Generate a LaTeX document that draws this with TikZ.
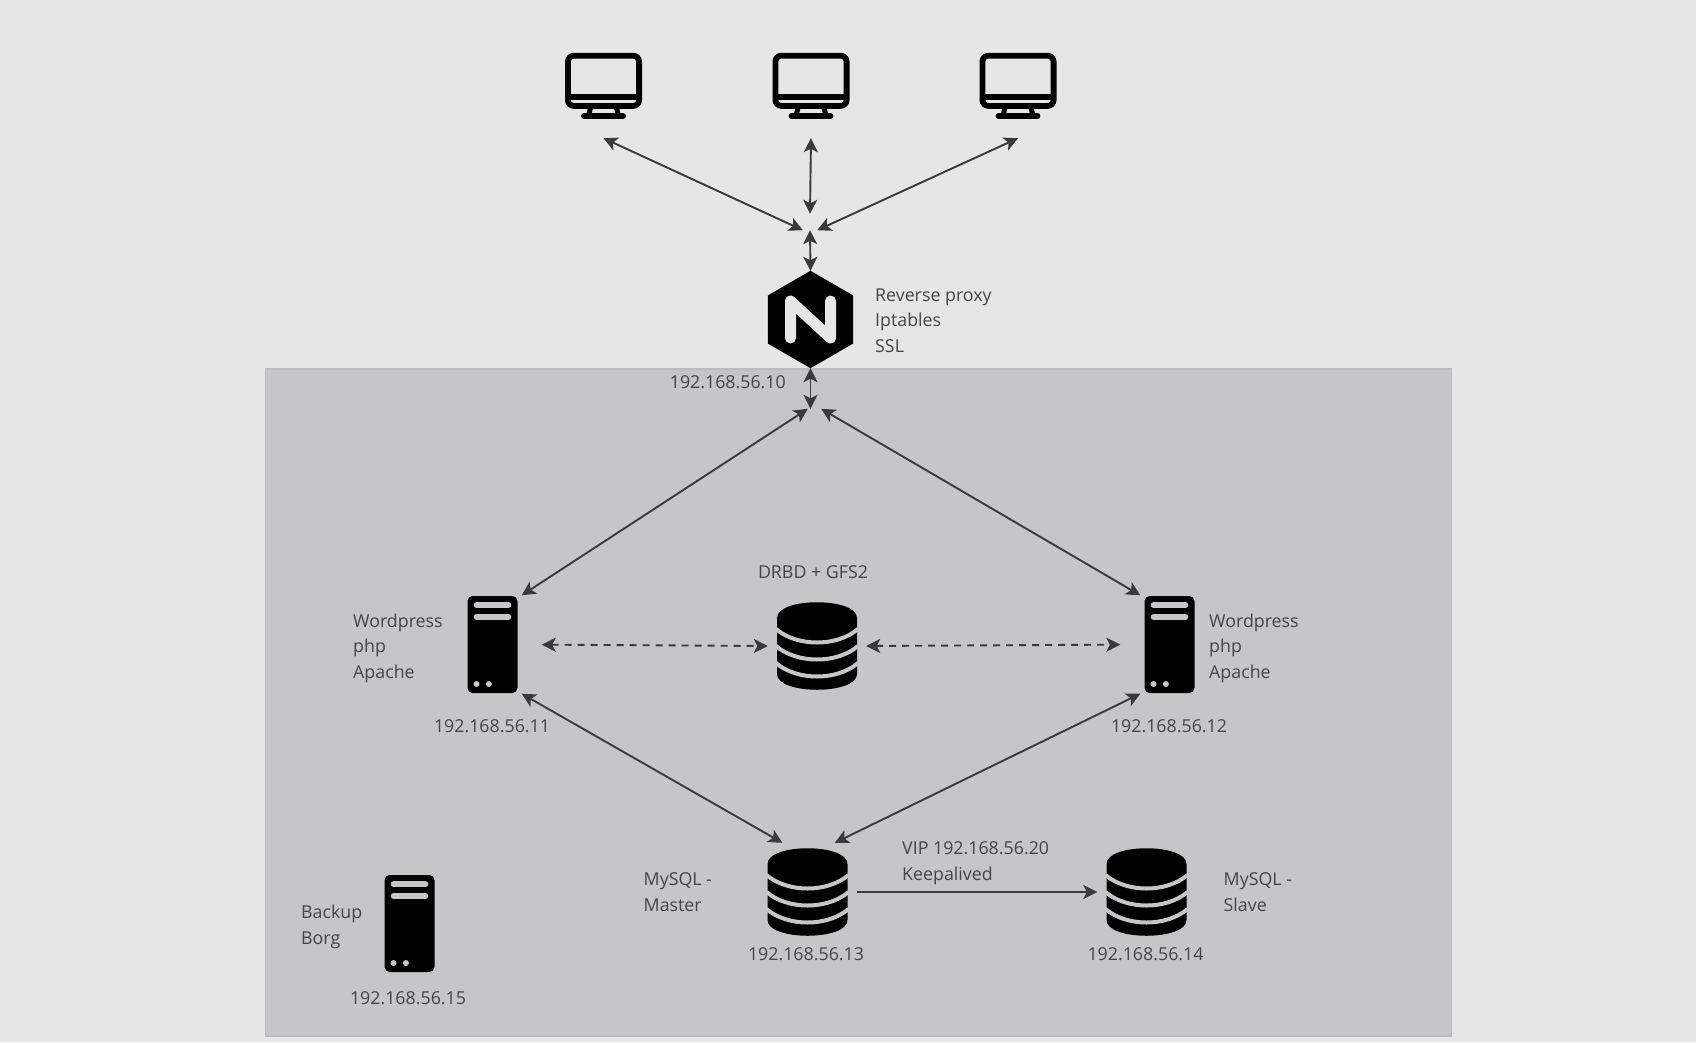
\documentclass[tikz,border=0pt]{standalone}
\usepackage{fontspec}
\setmainfont{Open Sans}
\usepackage{xcolor}
\usepackage{tikz}
\usetikzlibrary{arrows.meta}
\definecolor{ink}{HTML}{3A3A3A}
\definecolor{label}{HTML}{454545}
\definecolor{page}{HTML}{E6E6E6}
\definecolor{panel}{HTML}{C6C6C8}
\definecolor{panelline}{HTML}{BCBCBE}
\begin{document}
\begin{tikzpicture}[
  x=1pt, y=-1pt,
  every node/.style={text=label, font=\fontsize{17.8}{25.4}\selectfont},
  txt/.style={anchor=west, align=left, inner sep=0pt},
  ipaddr/.style={inner sep=0pt},
  slot/.style={rectangle, inner sep=0pt},
  pcslot/.style={slot, minimum width=77pt, minimum height=85pt},
  srvslot/.style={slot, minimum width=58pt, minimum height=98pt},
  dbslot/.style={slot, minimum width=98pt, minimum height=98pt},
  arrow/.style={{Stealth[length=14pt,width=14pt,inset=3.5pt]}-{Stealth[length=14pt,width=14pt,inset=3.5pt]}, draw=ink, line width=1.9pt},
  dasharrow/.style={arrow, dash pattern=on 7pt off 6pt},
  oneway/.style={-{Stealth[length=14pt,width=14pt,inset=3.5pt]}, draw=ink, line width=1.9pt},
  monitor/.pic={
    \draw[black, line width=5.8pt, rounded corners=6pt] (-35.6,2.9) rectangle (35.6,53.1);
    \draw[black, line width=5.4pt] (-36,44) -- (36,44);
    \draw[black, line width=5pt] (-13,55) -- (-15,63) (13,55) -- (15,63);
    \draw[black, line width=5.8pt, line cap=round] (-19.5,63.4) -- (19.5,63.4);
  },
  serverbox/.pic={
    \fill[black, rounded corners=5pt] (-25,-48.5) rectangle (25,48.5);
    \draw[panel, line width=5.6pt, line cap=round] (-16,-39.3) -- (16,-39.3) (-16,-27.5) -- (16,-27.5);
    \fill[panel] (-16,39.5) circle (3pt) (-3.6,39.5) circle (3pt);
  },
  dbstack/.pic={
    \fill[black] (-40,-28) .. controls (-40,-49) and (40,-49) .. (40,-28) -- (40,28)
      .. controls (40,49) and (-40,49) .. (-40,28) -- cycle;
    \draw[panel, line width=4pt] (-41,-17) .. controls (-20,1) and (20,1) .. (41,-17);
    \draw[panel, line width=4pt] (-41,0) .. controls (-20,18) and (20,18) .. (41,0);
    \draw[panel, line width=4pt] (-41,17) .. controls (-20,35) and (20,35) .. (41,17);
  }
]
\useasboundingbox (0,0) rectangle (1696,1042);
\fill[page] (0,0) rectangle (1696,1042);
\draw[panelline, fill=panel, line width=1.2pt] (265.5,369) rectangle (1451.5,1036);

\node[pcslot] (pc1) at (603.5,95.5) {};
\node[pcslot] (pc2) at (811,95.5) {};
\node[pcslot] (pc3) at (1018,95.5) {};
\pic at (pc1.north) {monitor};
\pic at (pc2.north) {monitor};
\pic at (pc3.north) {monitor};

\node[slot, minimum width=14pt, minimum height=16pt] (hubtop) at (810,222) {};
\node[slot, minimum width=13pt, minimum height=20pt] (hubbot) at (814.5,419) {};

\node[slot, minimum width=85pt, minimum height=97pt] (nginx) at (810.5,319.5) {};
\fill[black] (nginx.north) -- (nginx.north east |- 0,295.5) -- (nginx.south east |- 0,343.5) -- (nginx.south)
  -- (nginx.south west |- 0,343.5) -- (nginx.north west |- 0,295.5) -- cycle;
\draw[page, line width=11pt, line cap=round, line join=round] (790.5,338) -- (790.5,301) -- (830.5,338) -- (830.5,301);

\node[srvslot] (web1) at (492.5,644.5) {};
\node[srvslot] (web2) at (1169.5,644.5) {};
\node[srvslot] (backup) at (409.5,923.5) {};
\pic at (web1) {serverbox};
\pic at (web2) {serverbox};
\pic at (backup) {serverbox};

\node[dbslot] (drbd) at (817,646) {};
\node[dbslot] (master) at (807.5,892) {};
\node[dbslot] (slave) at (1146.5,892) {};
\pic at (drbd) {dbstack};
\pic at (master) {dbstack};
\pic at (slave) {dbstack};

\draw[arrow] (pc1.south) -- (hubtop.south west);
\draw[arrow] (pc2.south) -- (hubtop.north);
\draw[arrow] (pc3.south) -- (hubtop.south east);
\draw[arrow] (hubtop.south) -- (nginx.north);
\draw[arrow] (nginx.south) -- (nginx.south |- hubbot.north);
\draw[arrow] (hubbot.north west) -- (web1.north east);
\draw[arrow] (hubbot.north east) -- (web2.north west);
\draw[dasharrow, shorten <=20pt] (web1.east) -- (drbd.west);
\draw[dasharrow, shorten >=20pt] (drbd.east) -- (web2.west);
\draw[arrow] (web1.south east) -- (master.117);
\draw[arrow] (web2.south west) -- (master.61);
\draw[oneway] (master.east) -- (slave.west);

\node[txt] (nginxtxt) at (875,320.5) {Reverse proxy\\Iptables\\SSL};
\node[ipaddr, anchor=east] (nginxip) at (786,382) {192.168.56.10};
\node[ipaddr] (drbdtxt) at (813,572.5) {DRBD + GFS2};
\node[txt] (web1txt) at (353,648) {Wordpress\\php\\Apache};
\node[txt] (web2txt) at (1209,648) {Wordpress\\php\\Apache};
\node[ipaddr] (web1ip) at (492,726.5) {192.168.56.11};
\node[ipaddr] (web2ip) at (1169,726.5) {192.168.56.12};
\node[txt] (mastertxt) at (643.5,892) {MySQL -\\Master};
\node[txt] (slavetxt) at (1223.5,892) {MySQL -\\Slave};
\node[txt] (viptxt) at (902,863) {VIP 192.168.56.20\\Keepalived};
\node[ipaddr] (masterip) at (806,954.5) {192.168.56.13};
\node[ipaddr] (slaveip) at (1145.5,954.5) {192.168.56.14};
\node[txt] (backuptxt) at (301,927) {Backup\\Borg};
\node[ipaddr] (backupip) at (408,998.5) {192.168.56.15};
\end{tikzpicture}
\end{document}
